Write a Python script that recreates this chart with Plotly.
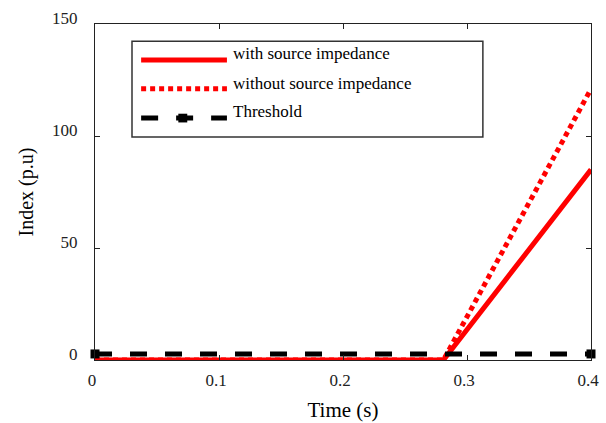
import plotly.graph_objects as go

# Data
t_with = [0.0, 0.281, 0.4]
idx_with = [0.0, 0.0, 85.0]
t_without = [0.0, 0.281, 0.4]
idx_without = [0.0, 0.0, 121.0]
t_thr = [0.0, 0.4]
idx_thr = [2.7, 2.7]
legend_labels = ["with source impedance", "without source impedance", "Threshold"]
x_ticks = [0, 0.1, 0.2, 0.3, 0.4]
x_ticktext = ["0", "0.1", "0.2", "0.3", "0.4"]
y_ticks = [0, 50, 100, 150]

FONT = "Liberation Serif, Times New Roman, serif"
RED = "#ff0000"

fig = go.Figure()
fig.add_trace(go.Scatter(x=t_without, y=idx_without, mode="lines",
                         line=dict(color=RED, width=5, dash="5px,4px"),
                         name=legend_labels[1], showlegend=False))
fig.add_trace(go.Scatter(x=t_with, y=idx_with, mode="lines",
                         line=dict(color=RED, width=5),
                         name=legend_labels[0], showlegend=False))
fig.add_trace(go.Scatter(x=t_thr, y=idx_thr, mode="lines+markers",
                         line=dict(color="black", width=5, dash="17px,18px"),
                         marker=dict(symbol="square", size=9, color="black"),
                         cliponaxis=False,
                         name=legend_labels[2], showlegend=False))

axis_common = dict(showline=True, linecolor="#222", linewidth=1, mirror="ticks",
                   ticks="inside", ticklen=5, tickcolor="#222", showgrid=False,
                   zeroline=False, automargin=False,
                   tickfont=dict(family=FONT, size=17, color="#222"))

fig.update_xaxes(range=[0, 0.4], tickvals=x_ticks, ticktext=x_ticktext,
                 title=dict(text="Time (s)", font=dict(family=FONT, size=21, color="black"), standoff=12),
                 ticklabelshift=-3, ticklabelstandoff=5, **axis_common)
fig.update_yaxes(range=[0, 150], tickvals=y_ticks,
                 title=dict(text="Index (p.u)", font=dict(family=FONT, size=20, color="black"), standoff=13),
                 ticklabelshift=-6, ticklabelstandoff=13, **axis_common)

# Manual legend (paper coords)
shapes = [
    dict(type="rect", xref="paper", yref="paper", x0=0.0746, x1=0.782, y0=0.664, y1=0.949,
         line=dict(color="#333", width=1.5), fillcolor="white", layer="above"),
    dict(type="line", xref="paper", yref="paper", x0=0.093, x1=0.266, y0=0.893, y1=0.893,
         line=dict(color=RED, width=5), layer="above"),
    dict(type="line", xref="paper", yref="paper", x0=0.093, x1=0.266, y0=0.807, y1=0.807,
         line=dict(color=RED, width=5, dash="5px,4px"), layer="above"),
    dict(type="line", xref="paper", yref="paper", x0=0.093, x1=0.266, y0=0.720, y1=0.720,
         line=dict(color="black", width=5, dash="17px,18px"), layer="above"),
    dict(type="rect", xref="paper", yref="paper", x0=0.168, x1=0.186, y0=0.707, y1=0.733,
         line=dict(color="black", width=0), fillcolor="black", layer="above"),
]
annotations = []
for lbl, yy in zip(legend_labels, [0.911, 0.824, 0.741]):
    annotations.append(dict(text=lbl, xref="paper", yref="paper", x=0.274, y=yy,
                            xanchor="left", yanchor="middle", showarrow=False,
                            font=dict(family=FONT, size=17, color="black")))

fig.update_layout(width=606, height=423, paper_bgcolor="white", plot_bgcolor="white",
                  margin=dict(l=95, r=15, t=24, b=63),
                  shapes=shapes, annotations=annotations, showlegend=False)

fig.write_html("out.html")
